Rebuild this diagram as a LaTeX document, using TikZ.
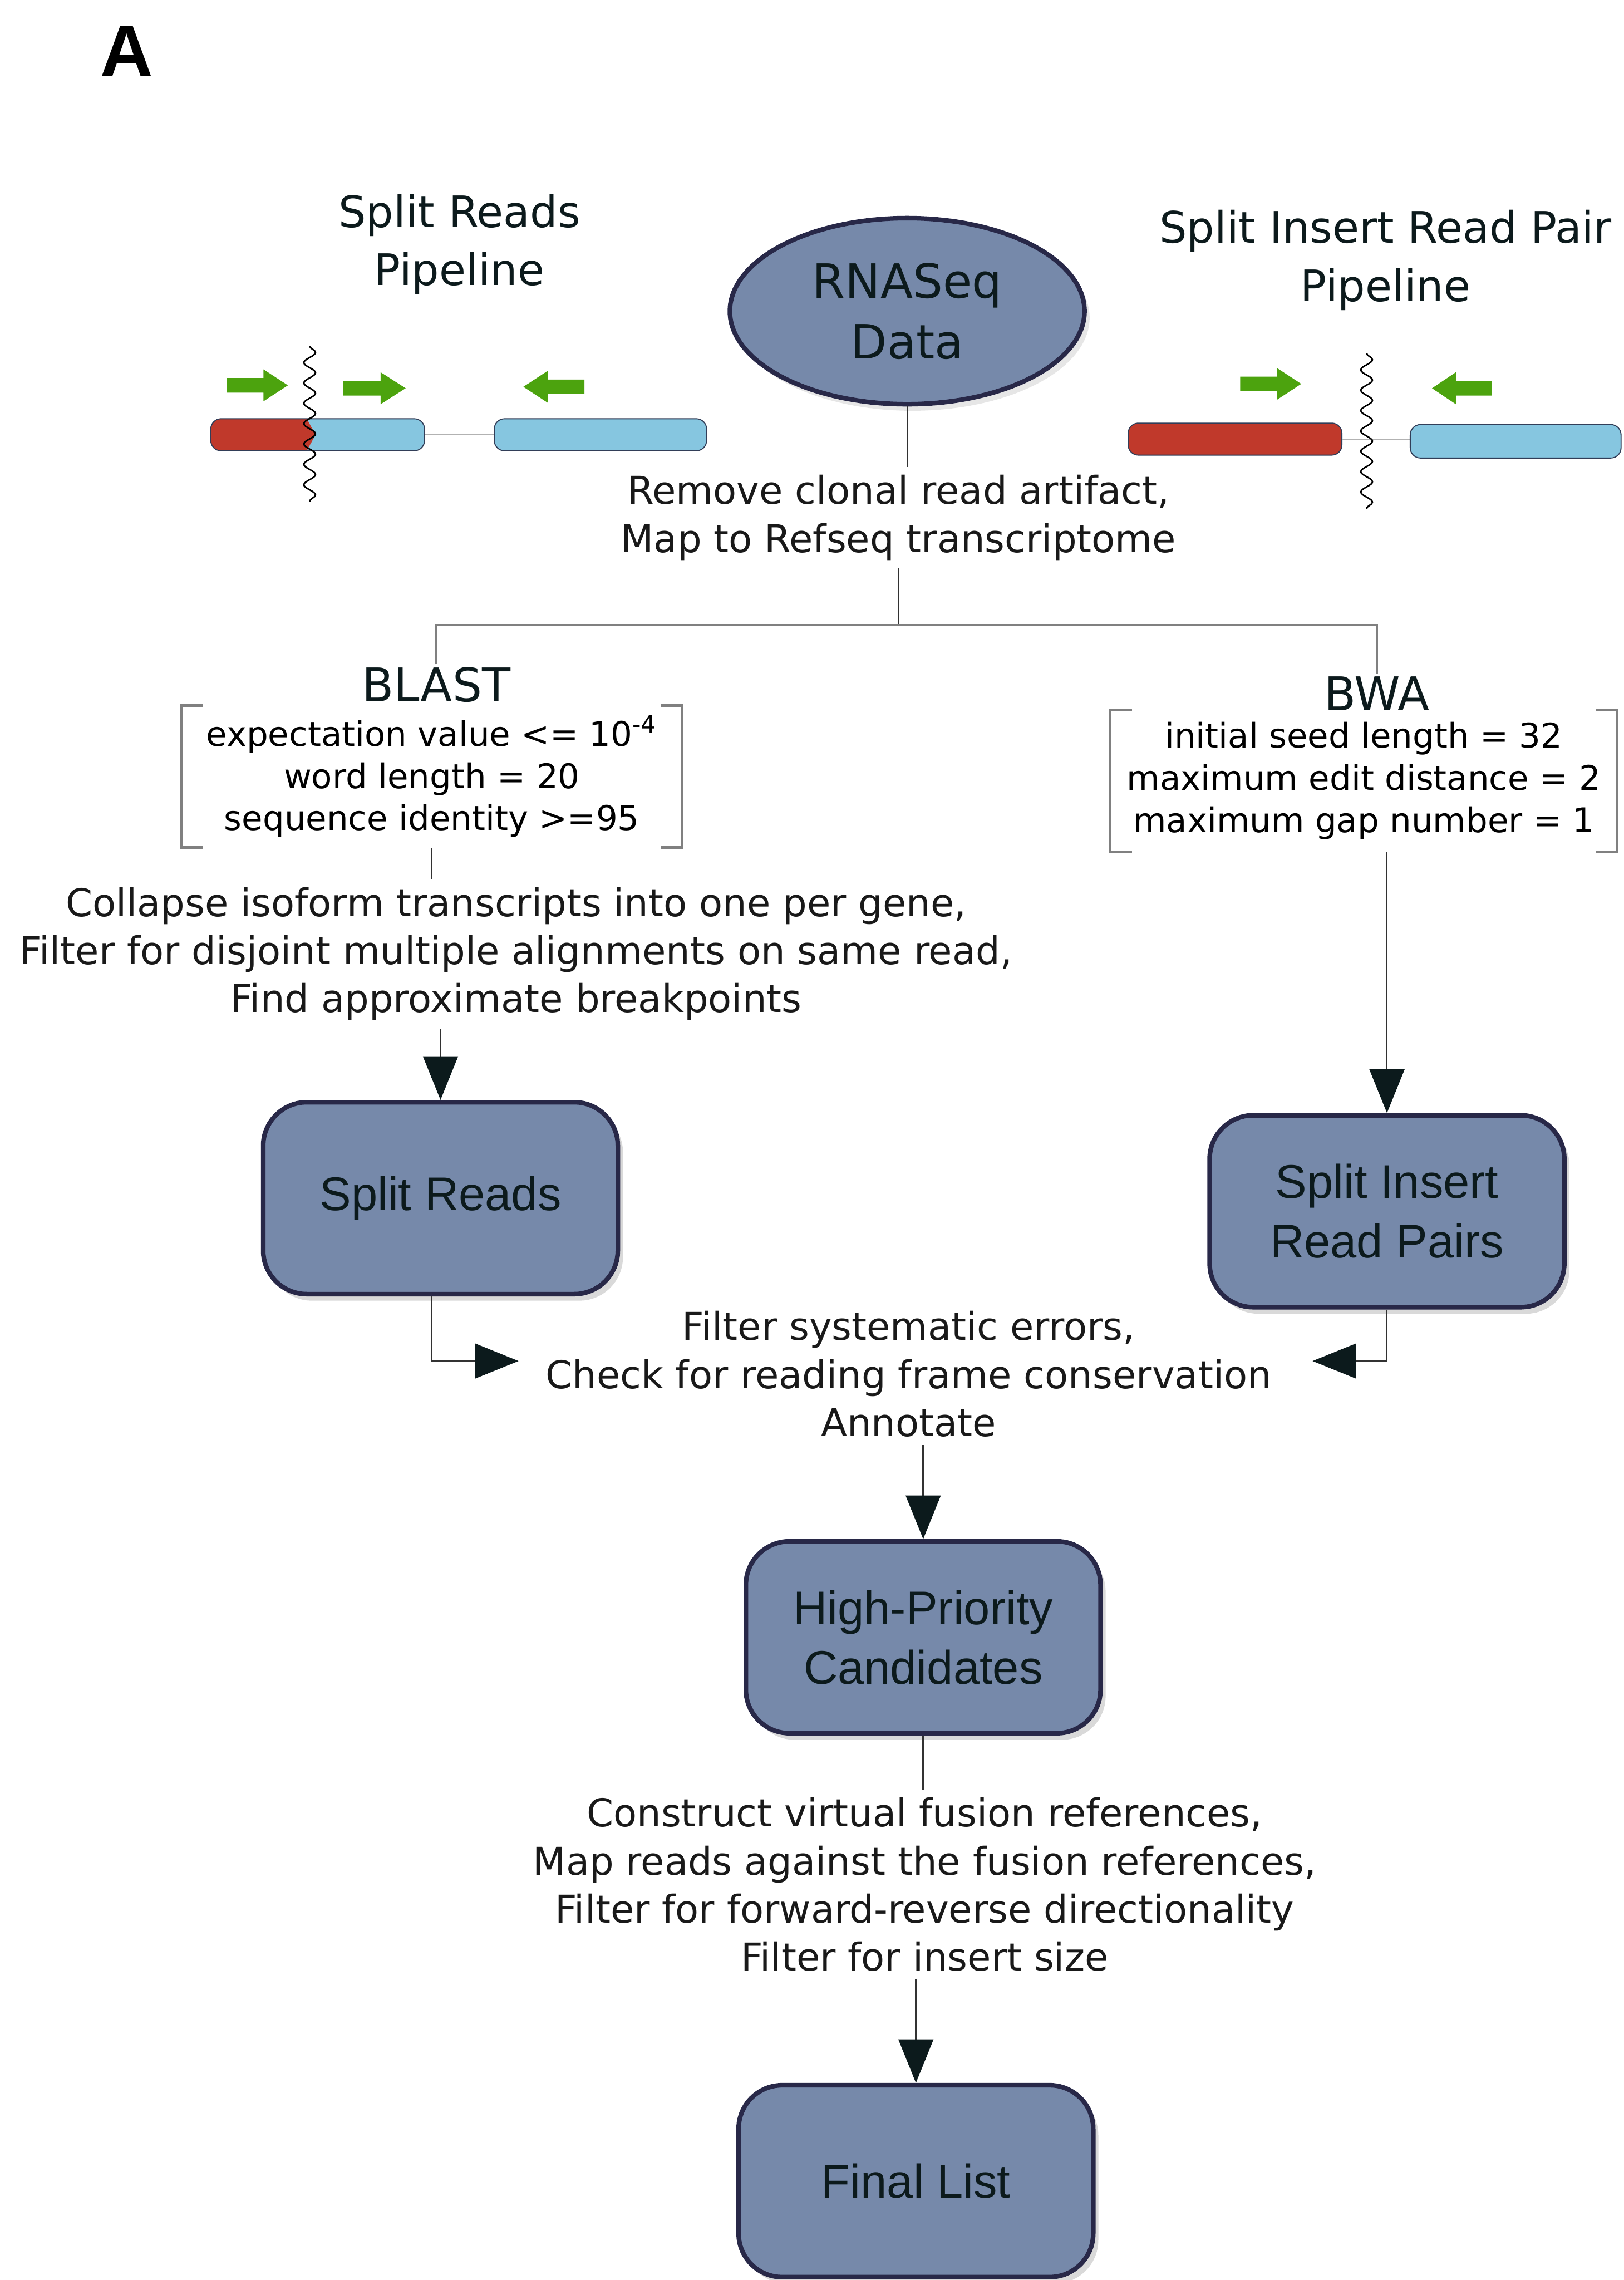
\documentclass[tikz,border=0pt]{standalone}
\usepackage{fontspec}
\setmainfont{DejaVu Sans}
\newfontfamily\boxfont{Liberation Sans}
\usetikzlibrary{arrows.meta,shapes.geometric,shadows,decorations.pathmorphing}
\definecolor{boxfill}{RGB}{118,137,170}
\definecolor{boxedge}{RGB}{40,40,72}
\definecolor{headcol}{RGB}{12,26,28}
\definecolor{readred}{RGB}{192,57,43}
\definecolor{readblue}{RGB}{134,198,224}
\definecolor{readedge}{RGB}{50,62,88}
\definecolor{primergreen}{RGB}{76,163,14}
\definecolor{linecol}{RGB}{50,50,50}
\newcommand{\primer}[3]% start x, y, signed length
{(#1,{#2-5}) -- ({#1+0.6*(#3)},{#2-5}) -- ({#1+0.6*(#3)},{#2-11}) -- ({#1+(#3)},#2)
 -- ({#1+0.6*(#3)},{#2+11}) -- ({#1+0.6*(#3)},{#2+5}) -- (#1,{#2+5}) -- cycle
}
\newcommand{\parambracket}[1]% node holding the parameters
{([xshift=0.3cm]#1.north west) -- (#1.north west) -- (#1.south west) -- ([xshift=0.3cm]#1.south west)
 ([xshift=-0.3cm]#1.north east) -- (#1.north east) -- (#1.south east) -- ([xshift=-0.3cm]#1.south east)
}

\begin{document}
\begin{tikzpicture}[x=0.02cm,y=-0.02cm,
  box/.style={rectangle,rounded corners=0.6cm,draw=boxedge,line width=1.8pt,fill=boxfill,
    minimum width=4.88cm,minimum height=2.64cm,align=center,text=headcol,
    font=\boxfont\fontsize{18.5}{23.3}\selectfont,
    drop shadow={shadow xshift=0.07cm,shadow yshift=-0.09cm,opacity=0.3}},
  steptext/.style={align=center,inner sep=0.3em,text=black!90,font=\fontsize{15}{18.8}\selectfont},
  paramtext/.style={align=center,inner sep=0pt,minimum height=1.94cm,font=\fontsize{13.3}{16.5}\selectfont},
  tool/.style={inner sep=1pt,text=headcol,font=\fontsize{18.2}{22}\selectfont},
  pipe/.style={align=center,text=headcol,font=\fontsize{17}{22.8}\selectfont},
  conn/.style={draw=linecol,line width=0.6pt},
  flow/.style={conn,-{Triangle[length=0.6cm,width=0.48cm,color=headcol]}},
  wave/.style={line width=0.6pt,decorate,decoration={snake,segment length=0.28cm,amplitude=0.08cm}}]
  \useasboundingbox (0,0) rectangle (1117,1568);

  \node[font=\boxfont\bfseries\fontsize{28.5}{30}\selectfont] (panel) at (87,35) {A};
  \node[pipe] (srpipe) at (316,168) {Split Reads\\Pipeline};
  \node[pipe] (sipipe) at (953,179) {Split Insert Read Pair\\Pipeline};
  \node[ellipse,draw=boxedge,line width=1.8pt,fill=boxfill,minimum width=4.88cm,minimum height=2.56cm,
    align=center,text=headcol,font=\fontsize{18.5}{23.9}\selectfont,
    drop shadow={shadow xshift=0.07cm,shadow yshift=-0.09cm,opacity=0.2}] (rnaseq) at (624,214) {RNASeq\\Data};

  % split read
  \begin{scope}
    \clip[rounded corners=4] (145,288) rectangle (292,310);
    \fill[readblue] (145,288) rectangle (292,310);
    \fill[readred] (145,288) -- (211,288) -- (217,299) -- (211,310) -- (145,310) -- cycle;
  \end{scope}
  \draw[readedge,rounded corners=4] (145,288) rectangle (292,310);
  \draw[gray!60] (292,299) -- (340,299);
  \draw[readedge,fill=readblue,rounded corners=4] (340,288) rectangle (486,310);
  \draw[wave] (213,238) -- (213,345);
  \fill[primergreen] \primer{156}{265}{42};
  \fill[primergreen] \primer{236}{267}{43};
  \fill[primergreen] \primer{402}{266}{-42};

  % split insert pair
  \draw[readedge,fill=readred,rounded corners=4] (776,291) rectangle (923,313);
  \draw[gray!60] (923,302) -- (970,302);
  \draw[readedge,fill=readblue,rounded corners=4] (970,292) rectangle (1115,315);
  \draw[wave] (940,243) -- (940,350);
  \fill[primergreen] \primer{853}{264}{42};
  \fill[primergreen] \primer{1026}{267}{-41};

  \node[steptext] (clonal) at (618,356) {Remove clonal read artifact,\\Map to Refseq transcriptome};
  \node[tool] (blast) at (300,471) {BLAST};
  \node[tool] (bwa) at (947,477) {BWA};
  \node[paramtext,minimum width=6.88cm] (blastpar) at (297,534) {expectation value <= 10\textsuperscript{-4}\\word length = 20\\sequence identity >=95};
  \node[paramtext,minimum width=6.96cm] (bwapar) at (938,537) {initial seed length = 32\\maximum edit distance = 2\\maximum gap number = 1};
  \node[steptext] (collapse) at (355,656) {Collapse isoform transcripts into one per gene,\\Filter for disjoint multiple alignments on same read,\\Find approximate breakpoints};
  \node[box] (splitreads) at (303,824) {Split Reads};
  \node[box] (splitins) at (954,833) {Split Insert\\Read Pairs};
  \node[steptext] (annotate) at (625,945) {Filter systematic errors,\\Check for reading frame conservation\\Annotate};
  \node[box] (highprio) at (635,1126) {High-Priority\\Candidates};
  \node[steptext] (virtual) at (636,1296) {Construct virtual fusion references,\\Map reads against the fusion references,\\Filter for forward-reverse directionality\\Filter for insert size};
  \node[box] (final) at (630,1500) {Final List};

  \draw[gray,line width=1pt] \parambracket{blastpar};
  \draw[gray,line width=1pt] \parambracket{bwapar};

  \coordinate (fork) at (622,430);
  \draw[conn] (rnaseq.south) -- (rnaseq.south |- clonal.north);
  \draw[conn] (clonal.south) -- (clonal.south |- fork);
  \draw[conn,draw=gray,line width=0.9pt] (blast.north) |- (clonal.south |- fork) -| (bwa.north);
  \draw[conn] (blastpar.south) -- (blastpar.south |- collapse.north);
  \draw[flow] (splitreads.north |- collapse.south) -- (splitreads.north);
  \draw[flow] (splitins.north |- bwapar.south) -- (splitins.north);
  \draw[flow] ([xshift=-0.12cm]splitreads.south) |- ([yshift=0.18cm,xshift=-0.26cm]annotate.west);
  \draw[flow] (splitins.south) |- ([yshift=0.18cm,xshift=0.45cm]annotate.east);
  \draw[flow] (highprio.north |- annotate.south) -- (highprio.north);
  \draw[conn] (highprio.south) -- (highprio.south |- virtual.north);
  \draw[flow] (final.north |- virtual.south) -- (final.north);
\end{tikzpicture}
\end{document}
